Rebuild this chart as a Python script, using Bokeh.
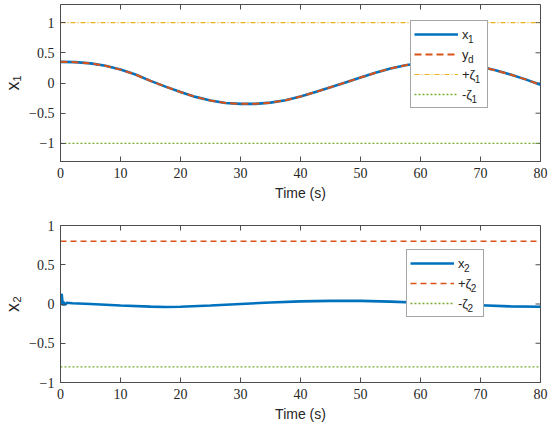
import math
from bokeh.plotting import figure
from bokeh.models import Range1d, FixedTicker, Legend, LegendItem
from bokeh.layouts import column
from bokeh.embed import file_html
from bokeh.resources import INLINE

# ---------------- data ----------------
t1 = [0, 2.5, 5, 7.5, 10, 12.5, 15, 17.5, 20, 22.5, 25, 27.5, 30, 32.5, 35,
      37.5, 40, 42.5, 45, 47.5, 50, 52.5, 55, 57.5, 60, 62.5, 65, 67.5, 70,
      72.5, 75, 77.5, 80]
x1 = [0.350, 0.345, 0.325, 0.285, 0.222, 0.140, 0.035, -0.060, -0.150, -0.230,
      -0.290, -0.330, -0.345, -0.345, -0.325, -0.285, -0.225, -0.150, -0.070,
      0.010, 0.090, 0.170, 0.240, 0.295, 0.330, 0.345, 0.340, 0.315, 0.270,
      0.210, 0.140, 0.060, -0.030]
yd = [0.350, 0.345, 0.325, 0.285, 0.222, 0.140, 0.035, -0.060, -0.150, -0.230,
      -0.290, -0.330, -0.345, -0.345, -0.325, -0.285, -0.225, -0.150, -0.070,
      0.010, 0.090, 0.170, 0.240, 0.295, 0.330, 0.345, 0.340, 0.315, 0.270,
      0.210, 0.140, 0.060, -0.030]

t2 = [0, 0.1, 0.2, 0.3, 0.4, 0.5, 0.6, 0.8, 1.0, 2, 5, 10, 15, 17.5, 20, 25,
      30, 35, 40, 45, 47.5, 50, 55, 60, 65, 70, 75, 80]
x2 = [0.0, 0.10, 0.13, 0.05, -0.02, 0.03, 0.0, -0.01, 0.015, 0.01, 0.0, -0.02,
      -0.033, -0.038, -0.035, -0.02, 0.0, 0.02, 0.033, 0.040, 0.042, 0.040,
      0.030, 0.015, 0.0, -0.015, -0.030, -0.035]

t_bounds = [0, 80]
zeta1 = 1.0
zeta2 = 0.8

x_ticks = [0, 10, 20, 30, 40, 50, 60, 70, 80]
y_ticks = [-1, -0.5, 0, 0.5, 1]
y_tick_labels = ["\u22121", "\u22120.5", "0", "0.5", "1"]

legend1_main = ["x", "y", "+\u03b6", "-\u03b6"]
legend1_sub = ["1", "d", "1", "1"]
legend2_main = ["x", "+\u03b6", "-\u03b6"]
legend2_sub = ["2", "2", "2"]

BLUE = "#0072BD"
RED = "#D95319"
YELLOW = "#EDB120"
GREEN = "#77AC30"
AX = "#4d4d4d"
TXT = "#262626"
SERIF = "Liberation Serif"
SANS = "Liberation Sans"


def make_fig(height, b_top, b_bottom, yr, ylabel):
    p = figure(width=550, height=height, x_range=Range1d(0, 80),
               y_range=Range1d(*yr), output_backend="svg",
               toolbar_location=None, min_border_left=60,
               min_border_right=10, min_border_top=b_top,
               min_border_bottom=b_bottom)
    p.grid.visible = False
    p.outline_line_color = AX
    p.background_fill_color = "white"
    p.border_fill_color = "white"
    over = {tk: lab for tk, lab in zip(y_ticks, y_tick_labels)}
    for ax in (p.xaxis[0], p.yaxis[0]):
        ax.axis_line_color = AX
        ax.major_tick_line_color = AX
        ax.major_tick_in = 5
        ax.major_tick_out = 0
        ax.minor_tick_line_color = None
        ax.major_label_text_font = SERIF
        ax.major_label_text_font_size = "14px"
        ax.major_label_text_color = TXT
        ax.major_label_standoff = 6
        ax.axis_label_text_font = SANS
        ax.axis_label_text_font_style = "normal"
        ax.axis_label_text_color = TXT
    p.xaxis.ticker = FixedTicker(ticks=x_ticks)
    p.yaxis.ticker = FixedTicker(ticks=y_ticks)
    p.yaxis.major_label_overrides = over
    p.xaxis.axis_label = "Time (s)"
    p.xaxis.axis_label_text_font_size = "14px"
    p.xaxis.axis_label_standoff = 4
    p.yaxis.axis_label = ylabel
    p.yaxis.axis_label_text_font_size = "18px"
    p.yaxis.axis_label_standoff = 3
    # mirrored inward ticks on the top and right edges (box on)
    p.ray(x=x_ticks, y=[yr[1]] * len(x_ticks), length=5, length_units="screen",
          angle=-math.pi / 2, line_color=AX, line_width=1)
    p.ray(x=[80] * len(y_ticks), y=y_ticks, length=5, length_units="screen",
          angle=math.pi, line_color=AX, line_width=1)
    return p


def add_legend(p, renderers, loc, mains, subs):
    items = [LegendItem(label=m, renderers=[r]) for m, r in zip(mains, renderers)]
    lg = Legend(items=items, location=loc, padding=3, spacing=0,
                glyph_width=44, glyph_height=20, label_width=22,
                label_height=20, label_standoff=4, margin=0,
                border_line_color=AX, border_line_width=1,
                background_fill_color="white", background_fill_alpha=1,
                label_text_font=SANS, label_text_font_size="13px",
                label_text_color=TXT)
    p.add_layout(lg)
    # subscripts: one tiny borderless legend per row, drawn on top
    dummy = p.line(x=[], y=[], line_alpha=0)
    text_x = loc[0] + 3 + 44 + 4
    top_c = loc[1] + 3 + 20 * len(mains) - 10
    sub_dx = {"x": 7.0, "y": 7.0, "+\u03b6": 13.8, "-\u03b6": 10.4}
    for i, (m, s) in enumerate(zip(mains, subs)):
        cy = top_c - 20 * i - 5
        sl = Legend(items=[LegendItem(label=s, renderers=[dummy])],
                    location=(text_x + sub_dx[m] - 1, cy - 5), padding=0,
                    spacing=0, glyph_width=1, glyph_height=10,
                    label_width=6, label_height=10, label_standoff=0,
                    margin=0, border_line_color=None,
                    background_fill_alpha=0, label_text_font=SANS,
                    label_text_font_size="10px", label_text_color=TXT)
        p.add_layout(sl)


# ---------------- top panel ----------------
p1 = make_fig(215, 4, 54, (-1.3, 1.3), "x\u2081")
r1 = p1.line(t1, x1, line_color=BLUE, line_width=2.6)
r2 = p1.line(t1, yd, line_color=RED, line_width=2, line_dash="7 4")
r3 = p1.line(t_bounds, [zeta1, zeta1], line_color=YELLOW, line_width=1.2,
             line_dash="5 2 1 2")
r4 = p1.line(t_bounds, [-zeta1, -zeta1], line_color=GREEN, line_width=1.3,
             line_dash="2 2")
add_legend(p1, [r1, r2, r3, r4], (350, 53), legend1_main, legend1_sub)

# ---------------- bottom panel ----------------
p2 = make_fig(210, 10, 43, (-1, 1), "x\u2082")
s1 = p2.line(t2, x2, line_color=BLUE, line_width=2.6)
s2 = p2.line(t_bounds, [zeta2, zeta2], line_color=RED, line_width=1.5,
             line_dash="6 4")
s3 = p2.line(t_bounds, [-zeta2, -zeta2], line_color=GREEN, line_width=1.3,
             line_dash="2 2")
add_legend(p2, [s1, s2, s3], (346, 65), legend2_main, legend2_sub)

layout = column(p1, p2)

open("out.html", "w").write(file_html(layout, INLINE))
